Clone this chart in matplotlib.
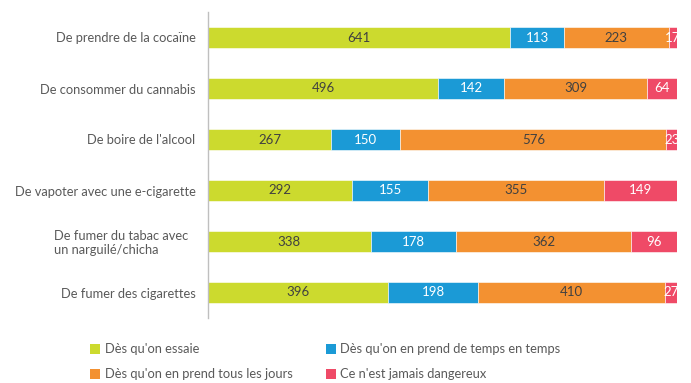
import matplotlib
matplotlib.use("Agg")
import matplotlib.pyplot as plt
import matplotlib.transforms as mtransforms
import numpy as np
from matplotlib.patches import Patch

plt.rcParams['font.family'] = ['Lato', 'DejaVu Sans']

categories = [
    "De prendre de la cocaïne",
    "De consommer du cannabis",
    "De boire de l'alcool",
    "De vapoter avec une e-cigarette",
    "De fumer du tabac avec\nun narguilé/chicha",
    "De fumer des cigarettes",
]
series_names = [
    "Dès qu'on essaie",
    "Dès qu'on en prend de temps en temps",
    "Dès qu'on en prend tous les jours",
    "Ce n'est jamais dangereux",
]
essaie = [641, 496, 267, 292, 338, 396]
temps_en_temps = [113, 142, 150, 155, 178, 198]
tous_les_jours = [223, 309, 576, 355, 362, 410]
jamais = [17, 64, 23, 149, 96, 27]

colors = ["#CCDA2E", "#1B9AD6", "#F39131", "#EF4A67"]
label_colors = ["#404040", "white", "#404040", "white"]

values = np.array([essaie, temps_en_temps, tous_les_jours, jamais], dtype=float)
totals = values.sum(axis=0)
shares = values / totals

fig = plt.figure(figsize=(6.91, 3.83), dpi=100)
ax = fig.add_axes([208 / 691, 1 - 318 / 383, (677 - 208) / 691, (318 - 12) / 383])

y = np.arange(len(categories))
left = np.zeros(len(categories))
for i in range(len(series_names)):
    bars = ax.barh(y, shares[i], left=left, height=0.4, color=colors[i],
                   edgecolor="white", linewidth=0.4, label=series_names[i])
    for j, b in enumerate(bars):
        ax.text(left[j] + shares[i][j] / 2, y[j], f"{int(values[i][j])}",
                ha="center", va="center", fontsize=9.5, color=label_colors[i])
    left += shares[i]

ax.set_xlim(0, 1)
ax.set_ylim(len(categories) - 0.5, -0.5)
ax.set_yticks(y)
ax.set_yticklabels(categories, fontsize=9.3, color="#595959")
ax.tick_params(axis="y", length=0, pad=9)
ax.set_xticks([])
for s in ["top", "right", "bottom"]:
    ax.spines[s].set_visible(False)
ax.spines["left"].set_color("#BFBFBF")
ax.spines["left"].set_linewidth(1.0)

# wrapped labels are left-aligned inside their text block
for lbl in ax.get_yticklabels():
    if "\n" in lbl.get_text():
        lbl.set_multialignment("left")
        lbl.set_transform(lbl.get_transform() + mtransforms.ScaledTranslation(
            -5 / 72, 0, fig.dpi_scale_trans))

# legend laid out row by row: two entries per row
order = [0, 2, 1, 3]
handles = [Patch(facecolor=colors[k]) for k in order]
labels = [series_names[k] for k in order]
leg = fig.legend(handles, labels, ncol=2, loc="upper left",
                 bbox_to_anchor=(84 / 691, 1 - 337 / 383), frameon=False,
                 fontsize=9.3, labelcolor="#595959", handlelength=0.75,
                 handleheight=0.75, handletextpad=0.35, columnspacing=2.6,
                 labelspacing=1.0, borderpad=0)

fig.savefig("out.png", dpi=100, facecolor="white")
